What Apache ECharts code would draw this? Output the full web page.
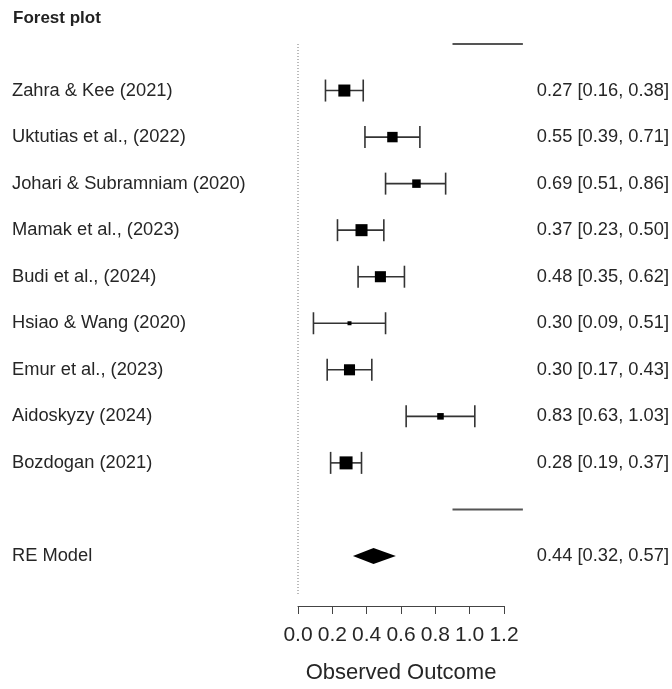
<!DOCTYPE html>
<html>
<head>
<meta charset="utf-8">
<title>Forest plot</title>
<script src="https://cdn.jsdelivr.net/npm/echarts@6/dist/echarts.min.js"></script>
<style>
  html, body { margin: 0; padding: 0; background: #fff; overflow: hidden; }
  #chart { width: 672px; height: 689px; }
</style>
</head>
<body>
<div id="chart"></div>
<script>
// Study-level effect sizes with 95% confidence intervals
const studies = [
  'Zahra & Kee (2021)',
  'Uktutias et al., (2022)',
  'Johari & Subramniam (2020)',
  'Mamak et al., (2023)',
  'Budi et al., (2024)',
  'Hsiao & Wang (2020)',
  'Emur et al., (2023)',
  'Aidoskyzy (2024)',
  'Bozdogan (2021)'
];
const estimates = [0.27, 0.55, 0.69, 0.37, 0.48, 0.30, 0.30, 0.83, 0.28];
const ciLower   = [0.16, 0.39, 0.51, 0.23, 0.35, 0.09, 0.17, 0.63, 0.19];
const ciUpper   = [0.38, 0.71, 0.86, 0.50, 0.62, 0.51, 0.43, 1.03, 0.37];
// Relative study weights (drive the size of each square)
const weights   = [12.1, 11.6, 11.0, 12.1, 11.8, 9.6, 11.8, 10.4, 12.4];

// Random-effects summary
const summaryLabel = 'RE Model';
const summaryEstimate = 0.44;
const summaryLower = 0.32;
const summaryUpper = 0.57;

// Axis ticks
const tickValues = [0.0, 0.2, 0.4, 0.6, 0.8, 1.0, 1.2];
const axisTitle = 'Observed Outcome';

const FONT = 'Liberation Sans, Arial, Helvetica, sans-serif';
const TEXT = '#262626';

const k = studies.length;
const rows = studies.map((_, i) => k - i);       // k .. 1
const summaryRow = -1;
const separatorRows = [k + 1, 0];
const fmt = v => v.toFixed(2);
const ciText = (e, lo, hi) => `${fmt(e)} [${fmt(lo)}, ${fmt(hi)}]`;

const wMin = Math.min(...weights), wMax = Math.max(...weights);
const sideOf = w => 4 + (w - wMin) / (wMax - wMin) * 9;

const studyData = studies.map((s, i) => [estimates[i], ciLower[i], ciUpper[i], rows[i], weights[i]]);

const labelData = studies.map((s, i) => [0, rows[i], s, ciText(estimates[i], ciLower[i], ciUpper[i])])
  .concat([[0, summaryRow, summaryLabel, ciText(summaryEstimate, summaryLower, summaryUpper)]]);

const chart = echarts.init(document.getElementById('chart'), null, { renderer: 'canvas', width: 672, height: 689 });

chart.setOption({
  animation: false,
  backgroundColor: '#fff',
  title: {
    text: 'Forest plot',
    left: 8,
    top: 5,
    textStyle: { fontFamily: FONT, fontSize: 17, fontWeight: 'bold', color: '#222' }
  },
  grid: { left: 298, right: 168, top: 44, bottom: 78 },
  xAxis: {
    type: 'value',
    min: tickValues[0],
    max: tickValues[tickValues.length - 1],
    interval: 0.2,
    splitLine: { show: false },
    axisLine: { show: true, onZero: false, lineStyle: { color: '#444', width: 1 } },
    axisTick: { show: true, length: 8, lineStyle: { color: '#444' } },
    axisLabel: {
      fontFamily: FONT, fontSize: 21, color: TEXT, margin: 19,
      formatter: v => v.toFixed(1)
    },
    name: axisTitle,
    nameLocation: 'middle',
    nameGap: 56,
    nameTextStyle: { fontFamily: FONT, fontSize: 22, color: TEXT }
  },
  yAxis: {
    type: 'value',
    min: -2.075,
    max: k + 1,
    show: false
  },
  series: [
    {
      // reference line at zero and separator lines
      type: 'custom',
      clip: false,
      silent: true,
      data: [[0]],
      renderItem: (params, api) => {
        const top = api.coord([0, k + 1]);
        const bottom = api.coord([0, -1.85]);
        const children = [{
          type: 'line',
          shape: { x1: top[0], y1: top[1], x2: bottom[0], y2: bottom[1] },
          style: { stroke: '#777', lineWidth: 1, lineDash: [1, 2] }
        }];
        separatorRows.forEach(r => {
          const a = api.coord([0.9, r]);
          const b = api.coord([1.31, r]);
          children.push({
            type: 'line',
            shape: { x1: a[0], y1: a[1], x2: b[0], y2: b[1] },
            style: { stroke: '#555', lineWidth: 2 }
          });
        });
        return { type: 'group', children };
      }
    },
    {
      // individual studies: CI whiskers with caps and weighted squares
      type: 'custom',
      clip: false,
      data: studyData,
      encode: { x: [0, 1, 2], y: 3 },
      renderItem: (params, api) => {
        const y = api.value(3);
        const p = api.coord([api.value(0), y]);
        const lo = api.coord([api.value(1), y]);
        const hi = api.coord([api.value(2), y]);
        const side = sideOf(api.value(4));
        const cap = 11;
        const ls = { stroke: '#333', lineWidth: 1.6 };
        return {
          type: 'group',
          children: [
            { type: 'line', shape: { x1: lo[0], y1: lo[1], x2: hi[0], y2: hi[1] }, style: ls },
            { type: 'line', shape: { x1: lo[0], y1: lo[1] - cap, x2: lo[0], y2: lo[1] + cap }, style: ls },
            { type: 'line', shape: { x1: hi[0], y1: hi[1] - cap, x2: hi[0], y2: hi[1] + cap }, style: ls },
            { type: 'rect', shape: { x: p[0] - side / 2, y: p[1] - side / 2, width: side, height: side }, style: { fill: '#000' } }
          ]
        };
      }
    },
    {
      // pooled random-effects estimate as a diamond
      type: 'custom',
      clip: false,
      data: [[summaryEstimate, summaryLower, summaryUpper, summaryRow]],
      encode: { x: [0, 1, 2], y: 3 },
      renderItem: (params, api) => {
        const y = api.value(3);
        const c = api.coord([api.value(0), y]);
        const lo = api.coord([api.value(1), y]);
        const hi = api.coord([api.value(2), y]);
        const h = 8;
        return {
          type: 'polygon',
          shape: { points: [[lo[0], lo[1]], [c[0], c[1] - h], [hi[0], hi[1]], [c[0], c[1] + h]] },
          style: { fill: '#000' }
        };
      }
    },
    {
      // study names on the left, estimates with CIs on the right
      type: 'custom',
      clip: false,
      silent: true,
      data: labelData,
      encode: { y: 1 },
      renderItem: (params, api) => {
        const p = api.coord([0, api.value(1)]);
        const row = labelData[params.dataIndex];
        return {
          type: 'group',
          children: [
            { type: 'text', x: 12, y: p[1], style: { text: row[2], font: `18.3px ${FONT}`, fill: TEXT, align: 'left', verticalAlign: 'middle' } },
            { type: 'text', x: api.getWidth() - 3, y: p[1], style: { text: row[3], font: `18.3px ${FONT}`, fill: TEXT, align: 'right', verticalAlign: 'middle' } }
          ]
        };
      }
    }
  ]
});
</script>
</body>
</html>
